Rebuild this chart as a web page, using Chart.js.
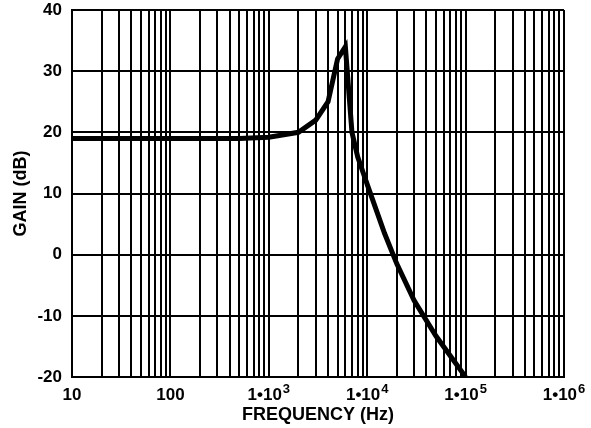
<!DOCTYPE html>
<html>
<head>
<meta charset="utf-8">
<script src="https://cdn.jsdelivr.net/npm/chart.js@4/dist/chart.umd.min.js"></script>
<style>
  html, body { margin: 0; padding: 0; background: #fff; }
  #wrap { width: 591px; height: 428px; }
</style>
</head>
<body>
<div id="wrap"><canvas id="myChart"></canvas></div>
<script>
// frequency response
var freqs = [10, 100, 500, 1000, 2000, 3000, 4000, 5000, 6000, 7000, 8000, 10000, 15000, 20000, 30000, 50000, 100000];
var gain = [19, 19, 19, 19.2, 20, 22, 25, 32, 34, 20, 16, 11.5, 3.5, -1.5, -7.5, -13.3, -20];

var yTicks = [-20, -10, 0, 10, 20, 30, 40];
var xDecades = [10, 100, 1000, 10000, 100000, 1000000];
// tick labels: base text + superscript exponent
var xLabels = ["10", "100", "1•10", "1•10", "1•10", "1•10"];
var xExps = ["", "", "3", "4", "5", "6"];

var points = freqs.map(function (f, i) {
  return { x: f, y: gain[i] };
});

var FAM = "'Liberation Sans', Arial, sans-serif";

// draws the x tick labels with a raised exponent
var xLabelPlugin = {
  id: "xLabelPlugin",
  afterDraw: function (chart) {
    var c = chart.ctx;
    var xs = chart.scales.x;
    c.save();
    c.fillStyle = "#000";
    c.textBaseline = "alphabetic";
    c.textAlign = "left";
    xDecades.forEach(function (v, i) {
      var px = xs.getPixelForValue(v);
      c.font = "bold 17px " + FAM;
      var w1 = c.measureText(xLabels[i]).width;
      c.font = "bold 13px " + FAM;
      var w2 = xExps[i] ? c.measureText(xExps[i]).width + 1 : 0;
      var x0 = px - (w1 + w2) / 2;
      c.font = "bold 17px " + FAM;
      c.fillText(xLabels[i], x0, 400);
      if (xExps[i]) {
        c.font = "bold 13px " + FAM;
        c.fillText(xExps[i], x0 + w1 + 1, 393);
      }
    });
    c.restore();
  },
};

var ctx = document.getElementById("myChart").getContext("2d");
var myChart = new Chart(ctx, {
  type: "line",
  data: {
    datasets: [
      {
        data: points,
        borderColor: "#000",
        borderWidth: 5,
        pointRadius: 0,
        tension: 0,
        fill: false,
      },
    ],
  },
  plugins: [xLabelPlugin],
  options: {
    responsive: true,
    maintainAspectRatio: false,
    animation: false,
    layout: { padding: { top: 10, right: 27, left: 0, bottom: 0 } },
    plugins: { legend: { display: false }, tooltip: { enabled: false } },
    scales: {
      x: {
        type: "logarithmic",
        min: 10,
        max: 1000000,
        afterBuildTicks: function (scale) {
          var t = [];
          for (var d = 10; d < 1000000; d *= 10) {
            for (var k = 1; k < 10; k++) t.push({ value: d * k });
          }
          t.push({ value: 1000000 });
          scale.ticks = t;
        },
        afterFit: function (scale) {
          scale.height = 51;
          scale.paddingLeft = 0;
          scale.paddingRight = 0;
        },
        ticks: { display: false, autoSkip: false },
        grid: { color: "#000", lineWidth: 2, drawTicks: false },
        border: { color: "#000", width: 2 },
        title: {
          display: true,
          text: "FREQUENCY (Hz)",
          color: "#000",
          font: { family: FAM, size: 18, weight: "bold" },
          padding: { top: 0, bottom: 2 },
        },
      },
      y: {
        min: -20,
        max: 40,
        afterBuildTicks: function (scale) {
          scale.ticks = yTicks.map(function (v) { return { value: v }; });
        },
        afterFit: function (scale) {
          scale.width = 72;
          scale.paddingTop = 0;
          scale.paddingBottom = 0;
        },
        ticks: {
          color: "#000",
          font: { family: FAM, size: 17, weight: "bold" },
          padding: 10,
        },
        grid: { color: "#000", lineWidth: 2, drawTicks: false },
        border: { color: "#000", width: 2 },
        title: {
          display: true,
          text: "GAIN (dB)",
          color: "#000",
          font: { family: FAM, size: 18, weight: "bold" },
          padding: { top: 10, bottom: 0 },
        },
      },
    },
  },
});
</script>
</body>
</html>
